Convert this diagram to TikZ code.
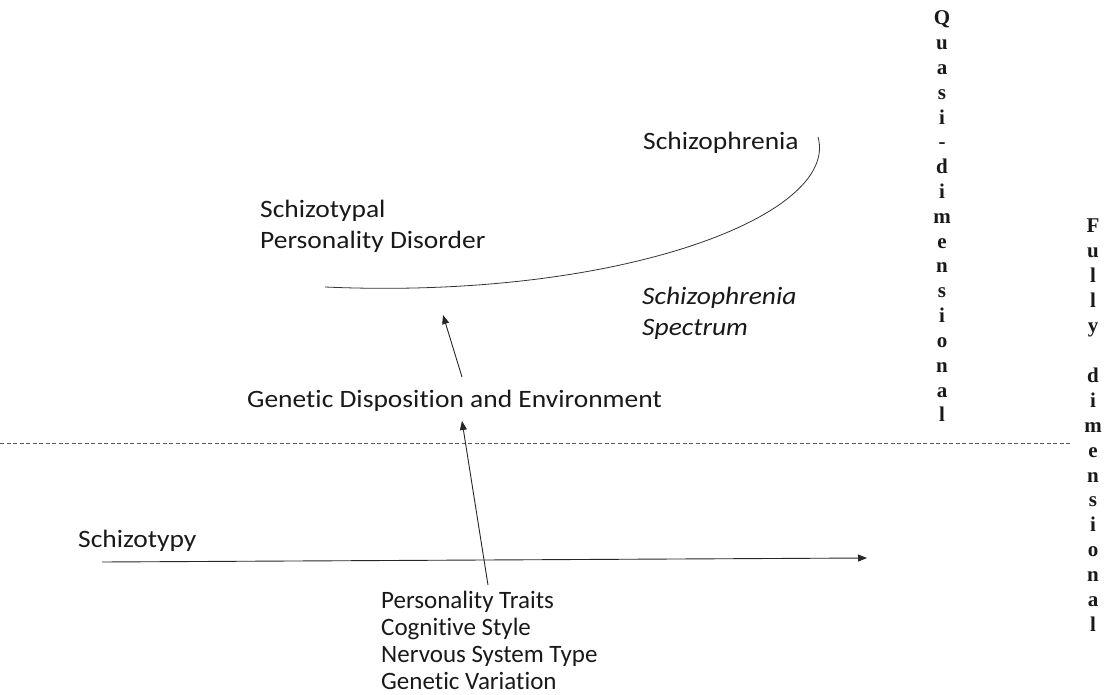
\documentclass[tikz,border=0pt]{standalone}
\usepackage{fontspec}
\setmainfont{Carlito}[Ligatures=NoCommon]
\newfontfamily\letterfont{Liberation Serif}
\usetikzlibrary{arrows.meta}
\newcommand\widetext[1]{\scalebox{1.1}[1]{#1}}

\begin{document}
\begin{tikzpicture}[x=1pt,y=-1pt,
  txt/.style={font=\fontsize{25}{30}\selectfont, inner sep=0pt, anchor=base west, text=black!90},
  itxt/.style={txt, font=\fontsize{25}{30}\selectfont\itshape},
  lst/.style={font=\fontsize{25}{27}\selectfont, inner sep=0pt, anchor=base west, text=black!90},
  vlet/.style={font=\letterfont\bfseries\fontsize{21}{22}\selectfont, inner sep=0pt, anchor=base, text=black!90},
  conn/.style={line width=0.9pt, draw=black!85, -{Triangle[length=9pt,width=7pt]}},
]
\useasboundingbox (0,0) rectangle (1112,695);

% spectrum labels
\node[txt] (schiz) at (643,150) {\widetext{Schizophrenia}};
\node[txt] (stpd1) at (260,218) {\widetext{Schizotypal}};
\node[txt] (stpd2) at (260,249) {\widetext{Personality Disorder}};
\node[itxt] (spec1) at (642,305) {\widetext{Schizophrenia}};
\node[itxt] (spec2) at (642,335) {\widetext{Spectrum}};
\node[txt] (gde) at (247,407) {\widetext{Genetic Disposition and Environment}};
\node[txt] (stypy) at (78,547) {\widetext{Schizotypy}};

% underlying factors
\node[lst] (fac1) at (381,608) {Personality Traits};
\node[lst] (fac2) at (381,635) {Cognitive Style};
\node[lst] (fac3) at (381,662) {Nervous System Type};
\node[lst] (fac4) at (381,689) {Genetic Variation};

% spectrum curve
\coordinate (c0) at (325,287);
\coordinate (c1) at (818,137);
\draw[line width=0.8pt, draw=black!80] (c0) .. controls (620,300) and (840,215) .. (c1);

% boundary between the two domains
\coordinate (dl) at (0,443);
\coordinate (dr) at (1070,443);
\draw[line width=0.8pt, draw=black!65, dash pattern=on 4pt off 2.5pt] (dl) -- (dr);

% connectors
\coordinate (a1s) at (462,377);
\coordinate (a1e) at (443,315);
\draw[conn] (a1s) -- (a1e);
\coordinate (a2s) at (488,585);
\coordinate (a2e) at (462,421);
\draw[conn] (a2s) -- (a2e);
\coordinate (hs) at (102,562);
\coordinate (he) at (867,558);
\draw[conn] (hs) -- (he);

% vertical column labels
\foreach \ch [count=\i] in {Q,u,a,s,i,-,d,i,m,e,n,s,i,o,n,a,l}
  \node[vlet] (q\i) at (942,{25+24.8*(\i-1)}) {\ch};
\foreach \ch/\k in {F/1,u/2,l/3,l/4,y/5,d/7,i/8,m/9,e/10,n/11,s/12,i/13,o/14,n/15,a/16,l/17}
  \node[vlet] (f\k) at (1093,{233+24.9*(\k-1)}) {\ch};
\end{tikzpicture}
\end{document}
